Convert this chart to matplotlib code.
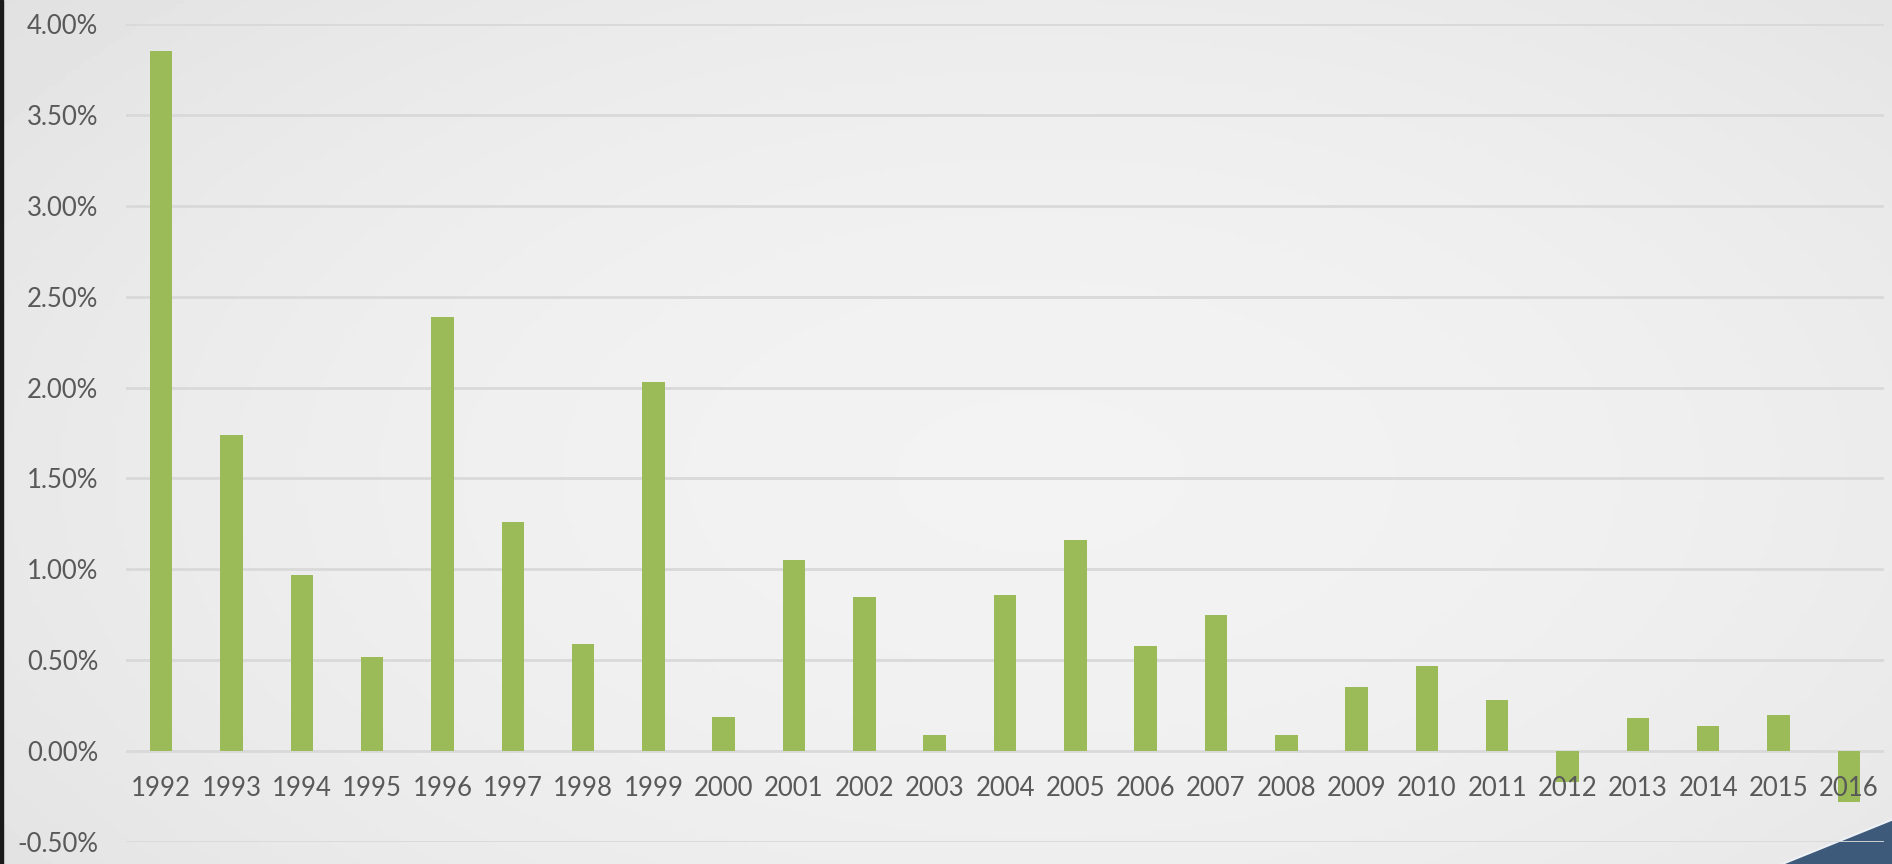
"""Annual growth rate bar chart, 1992-2016, on a light marble-like background."""

import numpy as np
import matplotlib.pyplot as plt
from matplotlib.patches import Polygon
from matplotlib.ticker import FuncFormatter

# Data (percent)
years = [str(y) for y in range(1992, 2017)]
values = [
    3.85, 1.74, 0.97, 0.52, 2.39, 1.26, 0.59, 2.03, 0.19, 1.05,
    0.85, 0.09, 0.86, 1.16, 0.58, 0.75, 0.09, 0.35, 0.47, 0.28,
    -0.17, 0.18, 0.14, 0.20, -0.28,
]
y_ticks = [-0.5, 0.0, 0.5, 1.0, 1.5, 2.0, 2.5, 3.0, 3.5, 4.0]

BAR_COLOR = "#9bbb59"
GRID_COLOR = "#d9d9d9"
TEXT_COLOR = "#595959"

plt.rcParams["font.family"] = ["Lato", "DejaVu Sans"]

W, H = 1892, 864
fig = plt.figure(figsize=(W / 100, H / 100), dpi=100)

# soft radial background (brighter in the middle, greyer at the edges)
bg = fig.add_axes([0, 0, 1, 1], zorder=0)
gx, gy = np.meshgrid(np.linspace(0, 1, 400), np.linspace(0, 1, 200))
dist = np.sqrt(((gx - 0.55) / 0.75) ** 2 + ((gy - 0.45) / 0.9) ** 2)
shade = 0.95 - 0.075 * np.clip(dist, 0, 1.3) ** 2
bg.imshow(shade, cmap="gray", vmin=0, vmax=1, aspect="auto",
          extent=[0, 1, 0, 1], origin="lower")
bg.set_xlim(0, 1)
bg.set_ylim(0, 1)
bg.axis("off")

# dark left border strip
bg.add_patch(Polygon([[0, 0], [3 / W, 0], [3 / W, 1], [0, 1]],
                     closed=True, color="#1a1a1a", zorder=2))
# navy corner triangle bottom right
tri = Polygon([[1760 / W, -0.01], [1.01, -0.01], [1.01, (H - 812) / H]],
              closed=True, facecolor="#3d5a7a", edgecolor="#eef2f6",
              linewidth=1.5, zorder=2)
bg.add_patch(tri)

ax = fig.add_axes([126 / W, 1 - 842 / H, (1884 - 126) / W, (842 - 24) / H],
                  zorder=1)
ax.patch.set_alpha(0)
ax.set_axisbelow(False)  # tick labels drawn above the bars

# gridlines drawn as lines behind the bars
for t in y_ticks:
    ax.axhline(t, color=GRID_COLOR, linewidth=2, zorder=1)

x = np.arange(len(years))
ax.bar(x, values, width=0.32, color=BAR_COLOR, zorder=2)

ax.set_xlim(-0.5, len(years) - 0.5)
ax.set_ylim(-0.5, 4.0)
ax.set_yticks(y_ticks)
ax.yaxis.set_major_formatter(FuncFormatter(lambda v, _: f"{v:.2f}%"))
ax.set_xticks(x)
ax.set_xticklabels(years)

for s in ["top", "right", "left"]:
    ax.spines[s].set_visible(False)
ax.spines["bottom"].set_position(("data", 0))
ax.spines["bottom"].set_visible(False)

ax.tick_params(axis="both", length=0, labelsize=18.5, colors=TEXT_COLOR)
ax.tick_params(axis="x", pad=18)
ax.tick_params(axis="y", pad=20)

fig.savefig("out.png", dpi=100)
